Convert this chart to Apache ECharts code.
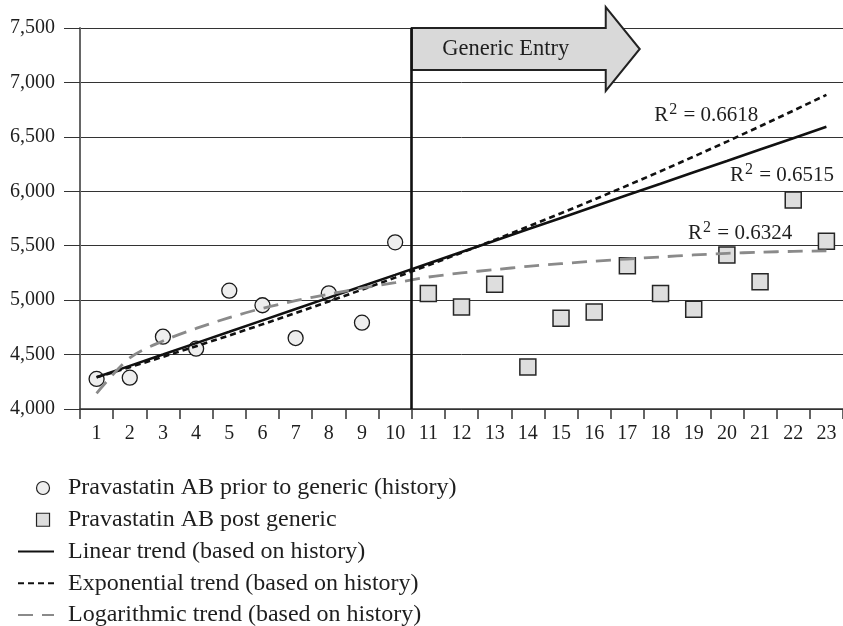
<!DOCTYPE html>
<html>
<head>
<meta charset="utf-8">
<script src="https://cdn.jsdelivr.net/npm/echarts@6/dist/echarts.min.js"></script>
<style>
  html, body { margin: 0; padding: 0; background: #ffffff; }
  #chart { width: 843px; height: 626px; }
</style>
</head>
<body>
<div id="chart"></div>
<script>
// Periods on the horizontal axis
const periods = ['1','2','3','4','5','6','7','8','9','10','11','12',
                 '13','14','15','16','17','18','19','20','21','22','23'];

// Observed sales, periods 1-10 (before generic entry)
const historySales = [4276, 4288, 4664, 4554, 5087, 4953, 4652, 5063, 4793, 5531];

// Observed sales, periods 11-23 (after generic entry)
const postGenericSales = [5060, 4937, 5145, 4386, 4833, 4891, 5317, 5060, 4916, 5415, 5170, 5920, 5540];

// Trend lines fitted on the history, extended over all 23 periods
const linearTrend = [4291, 4396, 4500, 4605, 4709, 4814, 4919, 5023, 5128, 5232, 5337, 5442,
                     5546, 5651, 5755, 5860, 5965, 6069, 6174, 6278, 6383, 6488, 6592];
const exponentialTrend = [4291, 4384, 4479, 4577, 4676, 4778, 4882, 4988, 5096, 5207, 5320, 5436,
                          5554, 5675, 5798, 5924, 6053, 6184, 6319, 6456, 6597, 6740, 6886];
const logarithmicTrend = [4144, 4470, 4625, 4740, 4840, 4925, 4995, 5055, 5110, 5160, 5212, 5250,
                          5280, 5310, 5335, 5358, 5378, 5397, 5415, 5430, 5440, 5448, 5452];

// Goodness of fit for each trend
const rSquaredExp = '0.6618';
const rSquaredLin = '0.6515';
const rSquaredLog = '0.6324';

// Vertical axis
const yMin = 4000, yMax = 7500, yStep = 500;

// Generic entry happens between period 10 and period 11
const entryPosition = 10.5;

const seriesNames = {
  history: 'Pravastatin AB prior to generic (history)',
  post: 'Pravastatin AB post generic',
  lin: 'Linear trend (based on history)',
  exp: 'Exponential trend (based on history)',
  log: 'Logarithmic trend (based on history)'
};

const FONT = "'Liberation Serif', 'Times New Roman', serif";
const INK = '#1e1e1e';

const chart = echarts.init(document.getElementById('chart'), null, { renderer: 'canvas' });

const historyData = historySales.map((v, i) => [periods[i], v]);
const postData = postGenericSales.map((v, i) => [periods[historySales.length + i], v]);

// Line legend entries show the stroke only, no marker
const hiddenMarker = { opacity: 0, color: 'rgba(0,0,0,0)', borderColor: 'rgba(0,0,0,0)', borderWidth: 0 };

// Marker icons for the legend; the leading move-to widens the box so the
// marker sits towards the right of the 36px icon slot
const legendCircle = 'path://M-10.8,5 M0,5A5,5,0,1,1,10,5A5,5,0,1,1,0,5Z';
const legendSquare = 'path://M-10.8,5 M0,0H10V10H0Z';

chart.setOption({
  animation: false,
  backgroundColor: '#ffffff',
  textStyle: { fontFamily: FONT },
  grid: { left: 80, top: 28, width: 767, height: 381, containLabel: false },
  xAxis: [
    {
      type: 'category',
      data: periods,
      boundaryGap: true,
      axisLine: { show: true, lineStyle: { color: '#333', width: 1.5 } },
      axisTick: { show: true, interval: 0, length: 10, lineStyle: { color: '#333', width: 1.5 } },
      axisLabel: { interval: 0, margin: 15, fontSize: 20, color: INK, fontFamily: FONT },
      splitLine: { show: false }
    },
    {
      type: 'value',
      min: 0.5,
      max: 23.5,
      show: false
    }
  ],
  yAxis: {
    type: 'value',
    min: yMin,
    max: yMax,
    interval: yStep,
    axisLine: { show: true, lineStyle: { color: '#666', width: 2 } },
    axisTick: { show: true, length: 16, lineStyle: { color: '#333', width: 1 } },
    axisLabel: {
      margin: 25, fontSize: 20, color: INK, fontFamily: FONT,
      formatter: v => v.toLocaleString('en-US')
    },
    splitLine: { show: true, lineStyle: { color: '#333', width: 1 } }
  },
  legend: {
    orient: 'vertical',
    left: 17,
    top: 476,
    height: 200,
    padding: 0,
    itemWidth: 36,
    itemHeight: 13,
    itemGap: 7.75,
    selectedMode: false,
    symbolKeepAspect: true,
    textStyle: { fontSize: 24, lineHeight: 23, color: INK, fontFamily: FONT, padding: [0, 0, 0, 9] },
    data: [
      { name: seriesNames.history, icon: legendCircle,
        itemStyle: { color: '#eeeeee', borderColor: '#222', borderWidth: 1.2 } },
      { name: seriesNames.post, icon: legendSquare,
        itemStyle: { color: '#dedede', borderColor: '#222', borderWidth: 1.2 } },
      { name: seriesNames.lin, itemStyle: hiddenMarker },
      { name: seriesNames.exp, itemStyle: hiddenMarker },
      { name: seriesNames.log, itemStyle: hiddenMarker }
    ]
  },
  series: [
    {
      name: seriesNames.history,
      type: 'scatter',
      data: historyData,
      symbol: 'circle',
      symbolSize: 15,
      itemStyle: { color: '#eeeeee', borderColor: '#1a1a1a', borderWidth: 1.3, opacity: 1 },
      z: 2
    },
    {
      name: seriesNames.post,
      type: 'scatter',
      data: postData,
      symbol: 'rect',
      symbolSize: 16,
      itemStyle: { color: '#dedede', borderColor: '#262626', borderWidth: 1.5, opacity: 1 },
      z: 2
    },
    {
      name: seriesNames.lin,
      type: 'line',
      data: linearTrend,
      symbol: 'none',
      silent: true,
      lineStyle: { color: '#111', width: 2.6, type: 'solid' },
      itemStyle: { color: '#111' },
      z: 3
    },
    {
      name: seriesNames.exp,
      type: 'line',
      data: exponentialTrend,
      symbol: 'none',
      silent: true,
      lineStyle: { color: '#111', width: 2.6, type: [6, 4] },
      itemStyle: { color: '#111' },
      z: 3
    },
    {
      name: seriesNames.log,
      type: 'line',
      data: logarithmicTrend,
      symbol: 'none',
      silent: true,
      smooth: 0.3,
      lineStyle: { color: '#8a8a8a', width: 2.8, type: [15, 9] },
      itemStyle: { color: '#8a8a8a' },
      z: 3
    },
    {
      name: 'entry',
      type: 'line',
      xAxisIndex: 1,
      data: [],
      silent: true,
      markLine: {
        silent: true,
        symbol: 'none',
        label: { show: false },
        lineStyle: { color: '#111', width: 2.6, type: 'solid' },
        data: [{ xAxis: entryPosition }]
      },
      z: 4
    }
  ]
});

// Annotations anchored in data space (value x axis spans 0.5 … 23.5)
function toPx(x, y) {
  return chart.convertToPixel({ xAxisIndex: 1, yAxisIndex: 0 }, [x, y]);
}

function rSquaredText(value, at) {
  const p = toPx(at[0], at[1]);
  return {
    type: 'text',
    x: p[0], y: p[1],
    z: 20,
    silent: true,
    style: {
      text: '{b|R}{s|2}{b| = ' + value + '}',
      verticalAlign: 'middle',
      rich: {
        b: { fontSize: 21, fontFamily: FONT, fill: INK, lineHeight: 24, verticalAlign: 'bottom' },
        s: { fontSize: 16, fontFamily: FONT, fill: INK, lineHeight: 24, verticalAlign: 'top', padding: [0, 1, 0, 1] }
      }
    }
  };
}

const anchor = toPx(entryPosition, yMax);
const arrowShape = [[0, 0], [194, 0], [194, -21], [228, 21], [194, 63], [194, 42], [0, 42]];

chart.setOption({
  graphic: [
    {
      type: 'group',
      x: anchor[0], y: anchor[1],
      z: 10,
      silent: true,
      children: [
        {
          type: 'polygon',
          shape: { points: arrowShape },
          style: { fill: '#d9d9d9', stroke: '#222', lineWidth: 2, lineJoin: 'miter' }
        },
        {
          type: 'text',
          x: 94, y: 21,
          style: {
            text: 'Generic Entry',
            font: '22.5px ' + FONT,
            fill: INK,
            align: 'center',
            verticalAlign: 'middle'
          }
        }
      ]
    },
    rSquaredText(rSquaredExp, [17.81, 6710]),
    rSquaredText(rSquaredLin, [20.09, 6159]),
    rSquaredText(rSquaredLog, [18.83, 5626])
  ]
});
</script>
</body>
</html>
